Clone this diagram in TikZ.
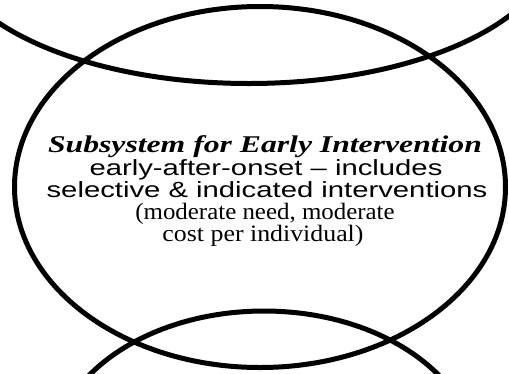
\documentclass[tikz,border=0pt]{standalone}
\usepackage{fontspec}
\setmainfont{Liberation Serif}
\newfontfamily\arialf{Liberation Sans}
\begin{document}
\begin{tikzpicture}[x=1pt,y=1pt,
  ring/.style={draw=black, line width=5pt},
  txt/.style={anchor=base, inner sep=0pt, transform shape, font=\fontsize{22}{24}\selectfont},
  serif/.style={txt, font=\fontsize{23.5}{25}\selectfont}]
\useasboundingbox (0,0) rectangle (509,-373);
\begin{scope}
\clip (0,0) rectangle (509,-373);
\draw[ring] (249,58) ellipse [x radius=305, y radius=141.5];
\draw[ring] (260,-187) ellipse [x radius=245.5, y radius=180.5];
\draw[ring] (264,-459) ellipse [x radius=212, y radius=148];
\end{scope}
\node[txt, xscale=1.32, font=\fontsize{24}{26}\selectfont] (l1) at (265,-152) {\bfseries\itshape Subsystem for Early Intervention};
\node[txt, xscale=1.33] (l2) at (266,-175) {\arialf early-after-onset – includes};
\node[txt, xscale=1.33] (l3) at (267,-197) {\arialf selective \& indicated interventions};
\node[serif, xscale=1.06] (l4) at (265,-219) {(moderate need, moderate};
\node[serif, xscale=1.1] (l5) at (263,-241) {cost per individual)};
\end{tikzpicture}
\end{document}
